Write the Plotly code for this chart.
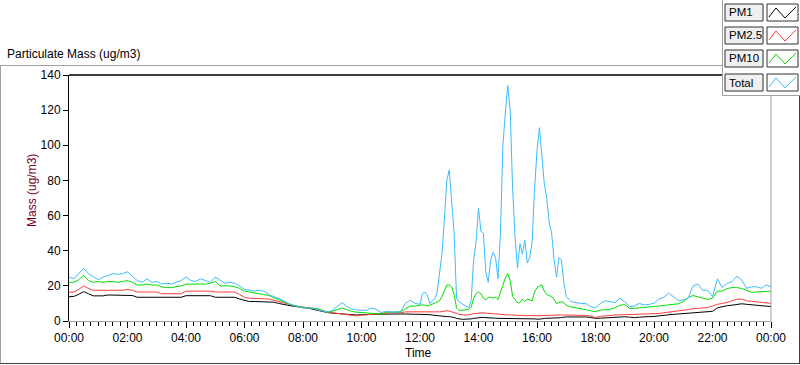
import plotly.graph_objects as go

# ---------------- data ----------------
# sample times in minutes after midnight (10-min steps, 5-min steps 12:00-17:00)
minutes = list(range(0, 720, 10)) + list(range(720, 1020, 5)) + list(range(1020, 1441, 10))

series_names = ["PM1", "PM2.5", "PM10", "Total"]

pm1 = [
    13.8, 14, 15.2, 16.7, 15.5, 14.3, 14.3, 14.3, 14.8, 14.8, 14.8, 14.8,
    14.8, 14.5, 13.5, 13.5, 13.5, 13.5, 13.5, 13.5, 13.5, 13.5, 13.5, 13.5,
    14.4, 14.4, 14.4, 14.4, 14.4, 14.4, 13.5, 13.5, 13.5, 13.5, 13.5, 12.5,
    11.7, 11.1, 11.1, 11.1, 11.1, 11, 10.7, 10, 9.4, 8.8, 8.4, 8.1,
    7.9, 7.4, 6.7, 6, 5.3, 4.8, 4.5, 4.2, 3.9, 3.7, 3.4, 3.4,
    3.6, 3.8, 3.9, 3.9, 3.9, 4, 4.2, 4.2, 4, 4, 4, 4,
    4.0, 4.0, 4.0, 3.8, 3.6, 3.4, 3.2, 3.0, 2.8, 2.6,
    2.5, 2.5, 2.5, 2.4, 2.0, 1.5, 1.1, 1.0, 1.0, 1.0,
    1.0, 1.2, 1.5, 1.8, 2.0, 2.0, 2.0, 2.0, 2.0, 2.0,
    1.8, 1.6, 1.5, 1.5, 1.5, 1.5, 1.5, 1.5, 1.5, 1.5,
    1.5, 1.5, 1.5, 1.5, 1.5, 1.5, 1.4, 1.2, 1.0, 1.0,
    1.2, 1.5, 1.5, 1.5, 1.5, 1.5, 1.6, 1.8, 2.0, 2.2,
    2.3,
    2.3, 2.4, 2.5, 2.3, 2, 1.5, 1.6, 1.8, 2, 2.1,
    2.2, 2.4, 2.2, 1.9, 2.2, 2.5, 2.5, 2.6, 3, 3.3,
    3.5, 3.8, 4, 4.2, 4.3, 4.4, 4.5, 4.7, 4.9, 5.5,
    7.5, 8.3, 8.7, 9, 9.5, 9.8, 9.5, 9.2, 8.9, 8.7, 8.5, 8.2,
]

pm25 = [
    16.3, 16.5, 18, 20, 18.5, 17.5, 17.5, 17.5, 17.5, 17.5, 17.5, 17.5,
    18, 17.5, 16.5, 16.5, 16.5, 16.5, 16.5, 15.5, 15.5, 15.5, 15.5, 15.5,
    17, 17, 17, 17, 17, 17, 16.5, 16.5, 16.5, 16.5, 16.5, 15,
    13.5, 13, 12.9, 12.9, 12.9, 12.5, 11.8, 11, 10.2, 9.5, 8.7, 8.2,
    7.9, 7.6, 7.3, 6.5, 5.7, 5.2, 4.7, 4.3, 3.8, 3.5, 3, 2.9,
    3.3, 3.6, 3.8, 3.8, 4.2, 4.5, 4.7, 4.7, 4.7, 5.2, 5.2, 4.8,
    5.0, 5.2, 5.2, 5.0, 4.9, 4.8, 4.8, 5.0, 5.2, 5.3,
    5.6, 5.9, 5.6, 5.3, 5.0, 4.4, 3.8, 3.5, 3.4, 3.4,
    3.5, 3.8, 4.2, 4.4, 4.5, 4.6, 4.7, 4.5, 4.3, 4.2,
    4.1, 4.0, 4.0, 3.8, 3.6, 3.4, 3.4, 3.5, 3.4, 3.2,
    3.2, 3.1, 3.0, 3.0, 3.0, 3.1, 3.2, 3.0, 3.0, 3.0,
    3.1, 3.2, 3.3, 3.4, 3.4, 3.5, 3.5, 3.6, 3.5, 3.4,
    3.4,
    3.4, 3.4, 3.4, 3.2, 2.8, 2, 2.6, 3, 3.2, 3.4,
    3.5, 3.6, 3.7, 3.8, 3.8, 3.8, 3.8, 4, 4.3, 4.7,
    5, 5.2, 5.5, 6, 6.5, 7, 7.2, 7.4, 7.6, 8.5,
    9.5, 10, 10.5, 11.5, 12.3, 12.5, 11.5, 11.2, 11, 10.8, 10.5, 10,
]

pm10 = [
    22, 22, 23.5, 26, 23, 22, 22.5, 22, 22.5, 22.5, 22, 22.5,
    23, 22, 20.5, 20.5, 21, 20.5, 20.5, 19.5, 19, 19, 19.5, 20,
    21, 21, 21, 21, 21, 21.5, 22.5, 20, 20, 20, 19.5, 18.5,
    17, 16.5, 16, 15.8, 15.3, 14.5, 13.3, 12, 10.7, 9.8, 8.8, 8,
    7.5, 7.4, 7.2, 7, 6, 5, 5.5, 6.5, 7.4, 6.5, 5.5, 5,
    4.8, 4.7, 4.5, 4, 4, 5, 5, 5, 5.2, 7, 8.5, 8.5,
    9, 9.2, 9, 8.5, 9, 9.8, 10.2, 10.8, 11.5, 14,
    17.5, 20.5, 20.5, 19.5, 15, 7.5, 6, 6, 6.2, 6.4,
    6.5, 8, 13, 15.5, 16.5, 15.5, 13, 12, 13.5, 13.5,
    13, 13.5, 12.2, 16, 21, 24.5, 27, 23, 14, 12,
    10.3, 10.5, 12.5, 11, 12.5, 12, 11.5, 16.5, 19, 20,
    20.5, 17, 15, 14.5, 13.8, 12.5, 10, 10.5, 11, 10.5,
    9,
    8, 7.5, 7.2, 6.5, 6, 5.3, 6.2, 6.3, 6.6, 7.5,
    9, 9.3, 7.2, 7.2, 7.4, 7.6, 7.8, 8, 8.2, 8.8,
    9.2, 9.5, 9.8, 11, 13.3, 14.5, 13.8, 13, 12.3, 13,
    17, 17, 18.5, 19, 19, 18.5, 17.6, 16.3, 16.5, 16.7, 16.7, 17,
]

total = [
    25, 24, 27, 30, 27, 25, 23.5, 25, 26, 27, 26.5, 27,
    28, 25.5, 23, 22, 24, 22, 22.5, 21, 21.5, 21, 22, 23,
    25, 23, 22.5, 24, 23, 22, 25, 23, 21.5, 22, 21.5, 20,
    18, 17.5, 17, 17.5, 17, 15, 14, 12.8, 11.7, 10, 9, 8.5,
    7.5, 7.4, 7.2, 6.3, 5.5, 5, 6, 8.5, 10.5, 8.3, 6.8, 6.3,
    6.2, 6, 7.4, 6.8, 4.8, 5.5, 5.2, 5, 5.5, 10, 11.8, 10,
    9.5, 15.5, 16.5, 14.8, 10, 11.5, 12.5, 16, 28, 38,
    58, 80, 86, 70, 50, 13, 11, 10, 9, 8.2,
    7.5, 12, 35, 45, 64, 51, 50, 28, 22, 35,
    39, 36, 24, 50, 100, 118, 134, 120, 75, 48,
    30, 44, 38, 46, 33, 36, 45, 75, 97, 110,
    93, 78, 70, 56, 50, 35, 25, 36, 35, 22,
    14,
    11, 10.5, 10, 10, 8.2, 7.5, 10, 11.5, 11, 10.5,
    13, 11, 8.2, 8.7, 10, 9.1, 9.5, 10, 12.5, 13.5,
    16, 13.8, 11.5, 12, 13, 20, 21, 17.5, 17.5, 14,
    24, 19, 21.5, 22.4, 25.5, 23.3, 18.6, 19.5, 19.5, 18.6, 20.5, 19.5,
]

x_tick_hours = list(range(0, 25, 2))
x_tick_labels = ["00:00", "02:00", "04:00", "06:00", "08:00", "10:00", "12:00",
                 "14:00", "16:00", "18:00", "20:00", "22:00", "00:00"]
y_tick_values = list(range(0, 141, 20))

for s in (pm1, pm25, pm10, total):
    assert len(s) == len(minutes), (len(s), len(minutes))

hours = [m / 60.0 for m in minutes]

# ---------------- styling ----------------
colors = ["#000000", "#ff3c3c", "#00e000", "#3dbcff"]
W, H = 800, 365
L, R, T, B = 69, 771, 75, 321  # plot area in pixels


def px(x):
    return (x - L) / (R - L)


def py(y):
    return (B - y) / (B - T)


fig = go.Figure()
for name, vals, col in zip(series_names, [pm1, pm25, pm10, total], colors):
    fig.add_trace(go.Scatter(x=hours, y=vals, mode="lines", name=name,
                             line=dict(color=col, width=1)))

shapes = []


def line(x0, y0, x1, y1, color, width=1):
    shapes.append(dict(type="line", xref="paper", yref="paper",
                       x0=px(x0), y0=py(y0), x1=px(x1), y1=py(y1),
                       line=dict(color=color, width=width), layer="above"))


def rect(x0, y0, x1, y1, fill, color, width=1):
    shapes.append(dict(type="rect", xref="paper", yref="paper",
                       x0=px(x0), y0=py(y0), x1=px(x1), y1=py(y1),
                       fillcolor=fill, line=dict(color=color, width=width), layer="above"))


# outer frame
line(0, 65.5, 722, 65.5, "#a0a0a0")
line(0.5, 65.5, 0.5, 364, "#a0a0a0")
line(0, 363.5, 800, 363.5, "#404040")
line(799.5, 95, 799.5, 364, "#404040")
# plot frame
line(L, T, R, T, "#000000", 1.3)
line(R, T, R, B, "#a0a0a0")

# legend panel
rect(722.5, -2, 802, 95.5, "#ffffff", "#a0a0a0")
box_tops = [4, 27, 50, 74]
annotations = []
for top, name, col in zip(box_tops, series_names, colors):
    rect(725, top, 763, top + 17, "#f0f0f0", "#303030")
    rect(767, top, 798, top + 17, "#ffffff", "#303030")
    pts = [(769, top + 13), (776, top + 4), (785, top + 14), (796, top + 3)]
    path = "M " + " L ".join(f"{px(a):.5f},{py(b):.5f}" for a, b in pts)
    shapes.append(dict(type="path", xref="paper", yref="paper", path=path,
                       line=dict(color=col, width=1), layer="above"))
    annotations.append(dict(xref="paper", yref="paper", x=px(726.5), y=py(top + 8.5),
                            text=name, showarrow=False, xanchor="left", yanchor="middle",
                            font=dict(size=11.5, color="#000000")))

annotations.append(dict(xref="paper", yref="paper", x=px(5), y=py(54),
                        text="Particulate Mass (ug/m3)", showarrow=False,
                        xanchor="left", yanchor="middle", font=dict(size=12, color="#000000")))
annotations.append(dict(xref="paper", yref="paper", x=px(32), y=py(191),
                        text="Mass (ug/m3)", showarrow=False, textangle=-90,
                        xanchor="center", yanchor="middle", font=dict(size=12, color="#7a0026")))
annotations.append(dict(xref="paper", yref="paper", x=px(418), y=py(353),
                        text="Time", showarrow=False,
                        xanchor="center", yanchor="middle", font=dict(size=12, color="#000000")))

fig.update_layout(
    width=W, height=H,
    margin=dict(l=L, r=W - R, t=T, b=H - B, pad=0),
    paper_bgcolor="white", plot_bgcolor="white",
    showlegend=False,
    font=dict(family="Liberation Sans, Arial, sans-serif", size=12, color="#000000"),
    shapes=shapes, annotations=annotations,
    xaxis=dict(range=[0, 24], tickmode="array", tickvals=x_tick_hours, ticktext=x_tick_labels,
               ticks="outside", ticklen=6, tickcolor="#000000", showline=True,
               linecolor="#a0a0a0", showgrid=False, zeroline=False,
               minor=dict(ticks="outside", ticklen=4, tickcolor="#000000",
                          tick0=0, dtick=0.25, showgrid=False)),
    yaxis=dict(range=[0, 140], tickmode="array", tickvals=y_tick_values,
               ticks="outside", ticklen=5, tickcolor="#000000", showline=True,
               linecolor="#000000", showgrid=False, zeroline=False),
)

fig.write_html(
    "out.html",
    config={"displayModeBar": False},
    post_script="document.body.style.margin='0';document.body.style.padding='0';"
                "document.body.style.overflow='hidden';",
)
